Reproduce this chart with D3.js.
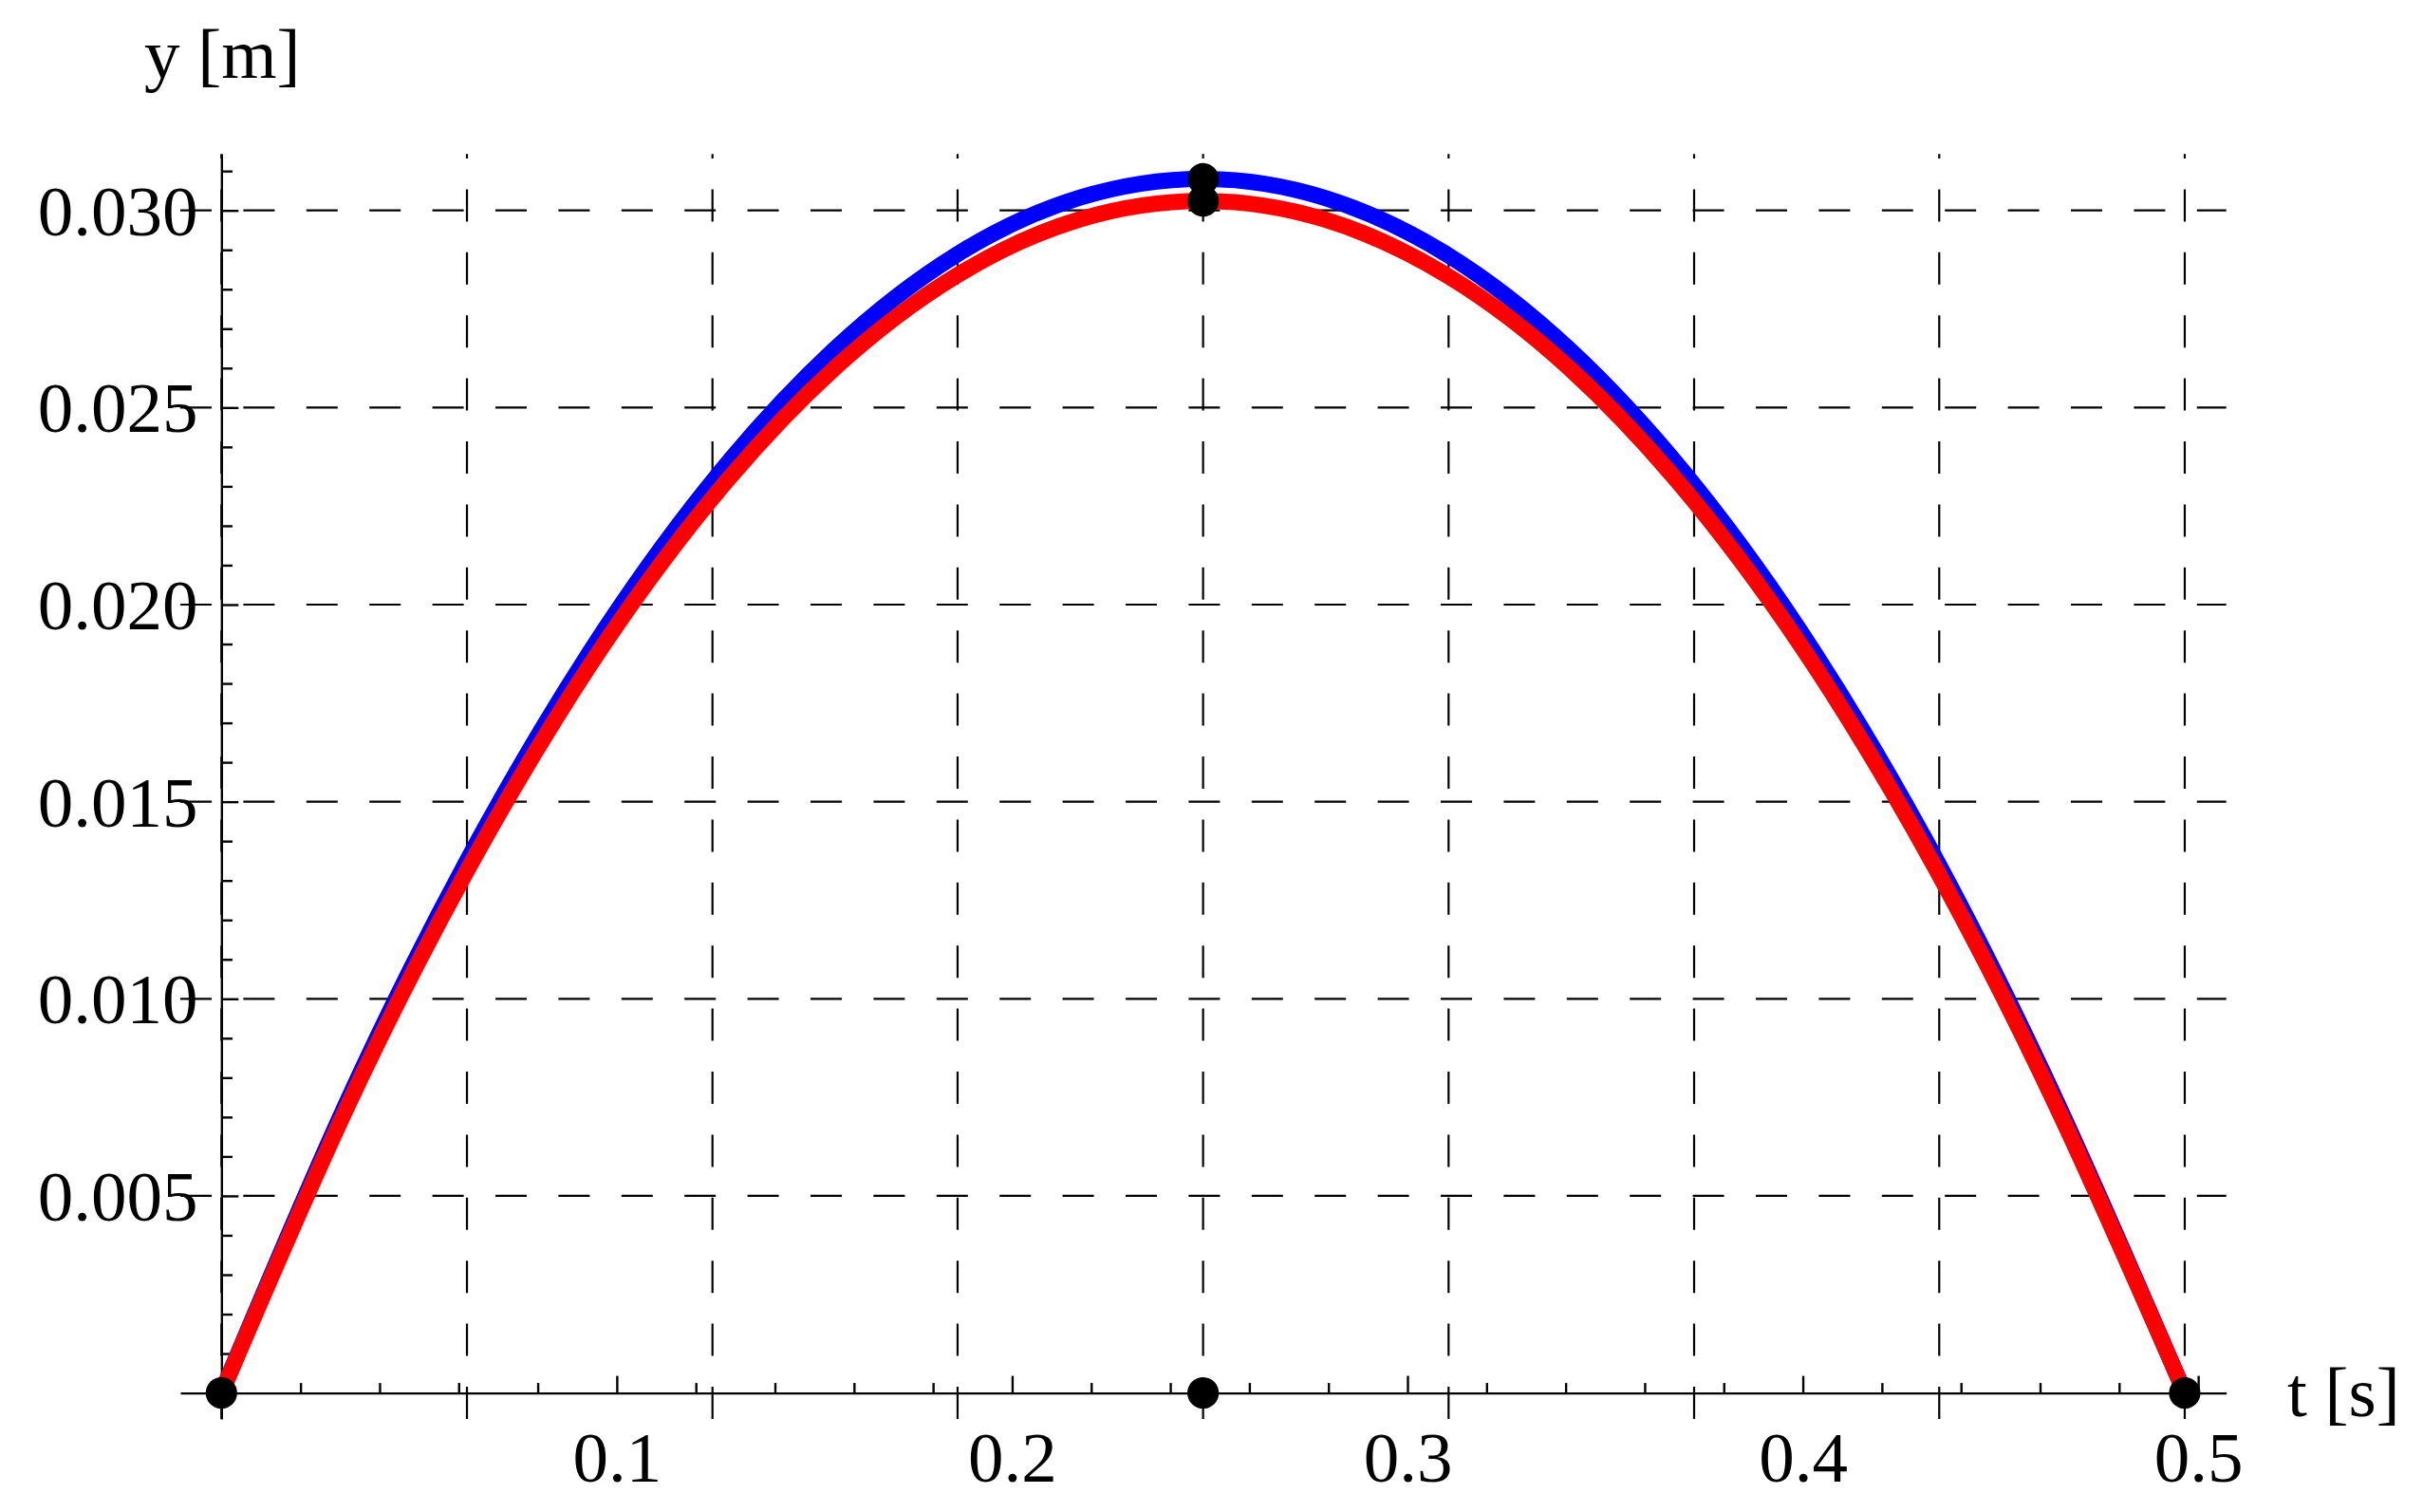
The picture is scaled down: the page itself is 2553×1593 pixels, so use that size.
<!DOCTYPE html>
<html lang="en">
	<head>
		<meta charset="utf-8">
		<title>D3: y(t) of two throws</title>
		<script src="https://d3js.org/d3.v7.min.js"></script>
		<style type="text/css">
			body { margin: 0; background: #fff; }
			text { font-family: "Liberation Serif", "Times New Roman", serif; fill: #000; }
		</style>
	</head>
	<body>
		<script type="text/javascript">
			//Size of the picture
			var width = 2553;
			var height = 1593;

			//Data
			var tValues = [0, 0.031, 0.062, 0.093, 0.124, 0.155, 0.186, 0.217, 0.2483,
						   0.279, 0.310, 0.341, 0.372, 0.403, 0.434, 0.465, 0.4966];
			var blueY = [0, 0.00722, 0.01348, 0.01877, 0.0231, 0.02647, 0.02888, 0.03032, 0.0308,
						 0.03032, 0.02888, 0.02647, 0.0231, 0.01877, 0.01348, 0.00722, 0];
			var redY = [0, 0.00709, 0.01323, 0.01843, 0.02268, 0.02599, 0.02835, 0.02977, 0.03024,
						0.02977, 0.02835, 0.02599, 0.02268, 0.01843, 0.01323, 0.00709, 0];
			var dotT = [0, 0.2483, 0.2483, 0.2483, 0.4966];
			var dotY = [0, 0.0308, 0.03024, 0, 0];

			var gridT = [0, 0.0621, 0.1242, 0.1862, 0.2483, 0.3104, 0.3725, 0.4345, 0.4966];
			var gridY = [0.005, 0.010, 0.015, 0.020, 0.025, 0.030];
			var xMajor = [0.1, 0.2, 0.3, 0.4, 0.5];
			var xMinor = [0.02, 0.04, 0.06, 0.08, 0.12, 0.14, 0.16, 0.18, 0.22, 0.24, 0.26, 0.28,
						  0.32, 0.34, 0.36, 0.38, 0.42, 0.44, 0.46, 0.48];
			var yMajor = [0.005, 0.010, 0.015, 0.020, 0.025, 0.030];
			var yMinor = [0.001, 0.002, 0.003, 0.004, 0.006, 0.007, 0.008, 0.009, 0.011, 0.012,
						  0.013, 0.014, 0.016, 0.017, 0.018, 0.019, 0.021, 0.022, 0.023, 0.024,
						  0.026, 0.027, 0.028, 0.029, 0.031];

			//Scales (plot range with padding)
			var x = d3.scaleLinear()
				.domain([-0.0104, 0.5071])
				.range([190, 2345.7]);
			var y = d3.scaleLinear()
				.domain([-0.00066, 0.03143])
				.range([1495, 162.3]);

			var fontSize = 75;

			var svg = d3.select("body")
						.append("svg")
							.attr("width", width)
							.attr("height", height);

			//Dashed grid
			svg.selectAll("line.hgrid")
			   .data(gridY)
			   .enter()
			   .append("line")
			   .attr("class", "hgrid")
			   .attr("x1", x.range()[0])
			   .attr("x2", x.range()[1])
			   .attr("y1", function(d) { return y(d); })
			   .attr("y2", function(d) { return y(d); })
			   .attr("stroke", "#000")
			   .attr("stroke-width", 2.2)
			   .attr("stroke-dasharray", "33,33.4");

			svg.selectAll("line.vgrid")
			   .data(gridT)
			   .enter()
			   .append("line")
			   .attr("class", "vgrid")
			   .attr("x1", function(d) { return x(d); })
			   .attr("x2", function(d) { return x(d); })
			   .attr("y1", y.range()[0])
			   .attr("y2", y.range()[1])
			   .attr("stroke", "#000")
			   .attr("stroke-width", 2.2)
			   .attr("stroke-dasharray", "34,32.4");

			//Axes
			function styleAxis(g) {
				g.selectAll("path, line").attr("stroke", "#000").attr("stroke-width", 2.4);
			}

			svg.append("g")
				.attr("transform", "translate(0," + y(0) + ")")
				.call(d3.axisBottom(x).tickValues(xMinor).tickSizeInner(-10.5).tickSizeOuter(0).tickFormat(""))
				.call(styleAxis);

			var xMajorAxis = svg.append("g")
				.attr("transform", "translate(0," + y(0) + ")")
				.call(d3.axisBottom(x).tickValues(xMajor).tickSizeInner(-18).tickSizeOuter(0)
					.tickFormat(d3.format(".1f")))
				.call(styleAxis);
			xMajorAxis.select(".domain").remove();
			xMajorAxis.selectAll("text")
				.attr("y", 93.5)
				.attr("dy", 0)
				.attr("font-size", fontSize + "px");

			svg.append("g")
				.attr("transform", "translate(" + x(0) + ",0)")
				.call(d3.axisRight(y).tickValues(yMinor).tickSizeInner(11.7).tickSizeOuter(0).tickFormat(""))
				.call(styleAxis);

			svg.append("g")
				.attr("transform", "translate(" + x(0) + ",0)")
				.call(d3.axisRight(y).tickValues(yMajor).tickSizeInner(18).tickSizeOuter(0).tickFormat(""))
				.call(styleAxis)
				.select(".domain").remove();

			var yLabels = svg.append("g")
				.attr("transform", "translate(" + x(0) + ",0)")
				.call(d3.axisLeft(y).tickValues(yMajor).tickSize(0).tickPadding(24.8)
					.tickFormat(d3.format(".3f")));
			yLabels.select(".domain").remove();
			yLabels.selectAll("text")
				.attr("dy", "0.34em")
				.attr("font-size", fontSize + "px");

			//Curves
			var line = d3.line()
				.x(function(d) { return x(d[0]); })
				.y(function(d) { return y(d[1]); })
				.curve(d3.curveNatural);

			svg.append("path")
				.datum(d3.zip(tValues, blueY))
				.attr("d", line)
				.attr("fill", "none")
				.attr("stroke", "#0000ff")
				.attr("stroke-width", 17);

			svg.append("path")
				.datum(d3.zip(tValues, redY))
				.attr("d", line)
				.attr("fill", "none")
				.attr("stroke", "#ff0000")
				.attr("stroke-width", 17);

			//Points
			svg.selectAll("circle")
			   .data(d3.zip(dotT, dotY))
			   .enter()
			   .append("circle")
			   .attr("cx", function(d) { return x(d[0]); })
			   .attr("cy", function(d) { return y(d[1]); })
			   .attr("r", 16.6)
			   .attr("fill", "#000");

			//Axis labels
			svg.append("text")
				.attr("x", 152)
				.attr("y", 82.3)
				.attr("font-size", fontSize + "px")
				.text("y [m]");

			svg.append("text")
				.attr("x", 2410)
				.attr("y", 1491.7)
				.attr("font-size", fontSize + "px")
				.text("t [s]");
		</script>
	</body>
</html>
